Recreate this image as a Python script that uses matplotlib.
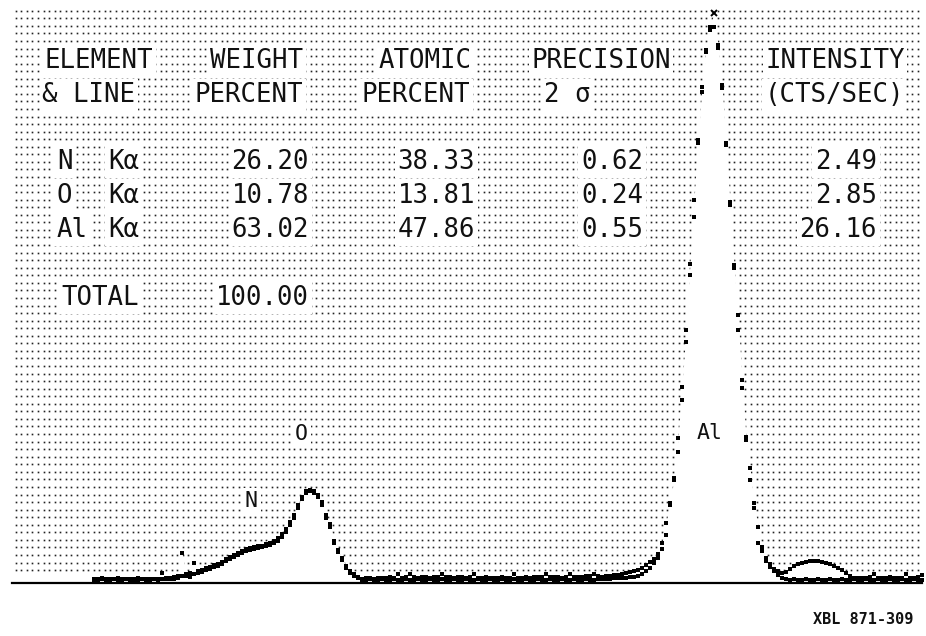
import numpy as np
import matplotlib
matplotlib.use("Agg")
import matplotlib.pyplot as plt
import matplotlib.transforms as mtransforms

# ---------------- data ----------------
ch_start = 23
# trace A (upper) counts per channel, ch 23..230
counts_a = [
    4, 4, 5, 4, 4, 4, 5, 4, 4, 4,
    4, 5, 4, 4, 4, 4, 4, 10, 5, 5,
    6, 7, 30, 9, 10, 20, 12, 13, 15, 16,
    18, 19, 21, 24, 26, 28, 30, 32, 34, 35,
    36, 37, 37, 39, 40, 42, 45, 49, 54, 61,
    68, 78, 86, 92, 93, 92, 88, 81, 68, 59,
    42, 33, 25, 17, 12, 9, 6, 4, 5, 5,
    4, 5, 5, 5, 6, 5, 9, 5, 6, 9,
    6, 5, 6, 6, 5, 6, 6, 9, 6, 6,
    5, 6, 6, 5, 6, 9, 5, 5, 6, 5,
    5, 5, 6, 5, 5, 9, 5, 5, 6, 5,
    6, 6, 6, 9, 6, 6, 6, 5, 6, 9,
    6, 6, 6, 7, 7, 9, 7, 6, 7, 7,
    8, 8, 9, 10, 11, 12, 13, 15, 18, 21,
    24, 29, 40, 60, 80, 105, 145, 196, 253, 319,
    383, 443, 496, 533, 556, 570, 538, 498, 440, 381,
    318, 268, 203, 146, 115, 80, 56, 36, 25, 19,
    14, 12, 10, 11, 14, 17, 19, 20, 21, 22,
    22, 22, 21, 20, 19, 17, 15, 13, 10, 7,
    5, 5, 5, 5, 6, 9, 5, 5, 5, 6,
    5, 5, 5, 9, 5, 5, 6, 8,
]
# trace B (lower) counts per channel, ch 23..230
counts_b = [
    3, 3, 4, 3, 3, 4, 3, 3, 4, 3,
    3, 3, 4, 3, 3, 4, 3, 4, 4, 4,
    4, 5, 7, 7, 6, 9, 10, 11, 13, 14,
    16, 17, 19, 22, 24, 26, 28, 30, 32, 33,
    34, 35, 36, 37, 38, 40, 42, 46, 51, 58,
    65, 75, 84, 90, 92, 90, 86, 78, 65, 56,
    40, 31, 23, 15, 10, 7, 5, 3, 3, 4,
    3, 3, 4, 3, 3, 4, 3, 3, 4, 3,
    3, 4, 3, 3, 4, 3, 3, 4, 3, 3,
    4, 3, 3, 4, 3, 3, 4, 3, 3, 4,
    3, 3, 4, 3, 3, 4, 3, 3, 4, 3,
    3, 4, 3, 3, 4, 3, 3, 4, 3, 3,
    4, 3, 3, 4, 3, 3, 4, 4, 4, 4,
    5, 5, 5, 5, 6, 6, 7, 9, 12, 15,
    20, 25, 34, 48, 78, 103, 131, 183, 241, 308,
    366, 440, 491, 531, 553, 556, 535, 495, 438, 378,
    315, 253, 195, 143, 103, 75, 40, 32, 22, 16,
    12, 8, 5, 4, 3, 4, 3, 3, 4, 3,
    3, 4, 3, 3, 4, 3, 3, 4, 3, 3,
    4, 3, 3, 4, 3, 3, 4, 3, 3, 4,
    3, 3, 4, 3, 3, 4, 3, 3,
]

header_row1 = ["ELEMENT", "WEIGHT", "ATOMIC", "PRECISION", "INTENSITY"]
header_row2 = ["& LINE", "PERCENT", "PERCENT", "2 σ", "(CTS/SEC)"]
elements = ["N", "O", "Al"]
lines = ["Kα", "Kα", "Kα"]
weight_pct = ["26.20", "10.78", "63.02"]
atomic_pct = ["38.33", "13.81", "47.86"]
precision_2s = ["0.62", "0.24", "0.55"]
intensity_cps = ["2.49", "2.85", "26.16"]
total_label = "TOTAL"
total_weight = "100.00"
peak_labels = ["N", "O", "Al"]
peak_label_pos = [(62.3, 82), (74.8, 149), (176.9, 150)]
figure_code = "XBL 871-309"

# ---------------- figure ----------------
W, H = 926, 636
fig = plt.figure(figsize=(W / 100, H / 100), dpi=100)
fig.patch.set_facecolor("white")
pix = mtransforms.Affine2D().scale(1 / W, -1 / H).translate(0, 1) + fig.transFigure

ax = fig.add_axes([12 / W, 53 / H, 910 / W, 578 / H])
ax.patch.set_visible(False)
ax.set_xlim(2.5, 230)
ax.set_ylim(0, 578)
for s in ["top", "left", "right"]:
    ax.spines[s].set_visible(False)
ax.spines["bottom"].set_linewidth(1.6)
ax.set_xticks([])
ax.set_yticks([])

# dotted printer background
gx = 15.7 + 5.57 * np.arange(163)
gy = 10.7 + 7.56 * np.arange(75)
GX, GY = np.meshgrid(gx, gy)
ax.plot(GX.ravel(), GY.ravel(), ls="none", marker="s", ms=1.2, mew=0,
        color="#222222", transform=pix, clip_on=False, zorder=0.5)

ch = np.arange(ch_start, ch_start + len(counts_a))
a = np.array(counts_a)
b = np.array(counts_b)
ax.fill_between(ch, 0, np.maximum(a, b), color="white", lw=0, zorder=1)

imax = int(np.argmax(a))
mask = np.ones(len(a), bool)
mask[imax] = False
ax.plot(ch[mask], a[mask], ls="none", marker="s", ms=3.4, mew=0, color="black", zorder=3, clip_on=False)
ax.plot(ch, b, ls="none", marker="s", ms=3.4, mew=0, color="black", zorder=3, clip_on=False)
ax.plot([ch[imax]], [a[imax]], ls="none", marker="x", ms=4.5, mew=1.4, color="black", zorder=3, clip_on=False)

# ---------------- table text ----------------
font = "DejaVu Sans Mono"
fs = 18.5
box = dict(boxstyle="square,pad=0.1", fc="white", ec="none")


def put(x, y, s, ha="center", size=fs, **kw):
    ax.text(x, y, s, transform=pix, ha=ha, va="baseline", fontsize=size,
            family=font, color="#111111", bbox=box, zorder=5, **kw)


h1_x = [99, 256.5, 425, 601, 835]
h2_x = [89, 249, 416, 567, 834]
for s, x in zip(header_row1, h1_x):
    put(x, 68, s)
for s, x in zip(header_row2, h2_x):
    put(x, 102, s)

row_base = [169, 203, 237]
for i in range(3):
    yb = row_base[i]
    put(57, yb, elements[i], ha="left")
    put(108, yb, lines[i], ha="left")
    put(309, yb, weight_pct[i], ha="right")
    put(475, yb, atomic_pct[i], ha="right")
    put(643, yb, precision_2s[i], ha="right")
    put(877, yb, intensity_cps[i], ha="right")
put(61, 305, total_label, ha="left")
put(309, 305, total_weight, ha="right")

for s, (x, y) in zip(peak_labels, peak_label_pos):
    ax.text(x, y, s, ha="center", va="center", fontsize=15.5, family=font,
            color="#111111", bbox=dict(boxstyle="square,pad=0.15", fc="white", ec="none"), zorder=5)

fig.text(863 / W, 1 - 619 / H, figure_code, ha="center", va="center",
         fontsize=11, family=font, fontweight="bold", color="#111111")

fig.savefig("out.png", dpi=100, facecolor="white")
